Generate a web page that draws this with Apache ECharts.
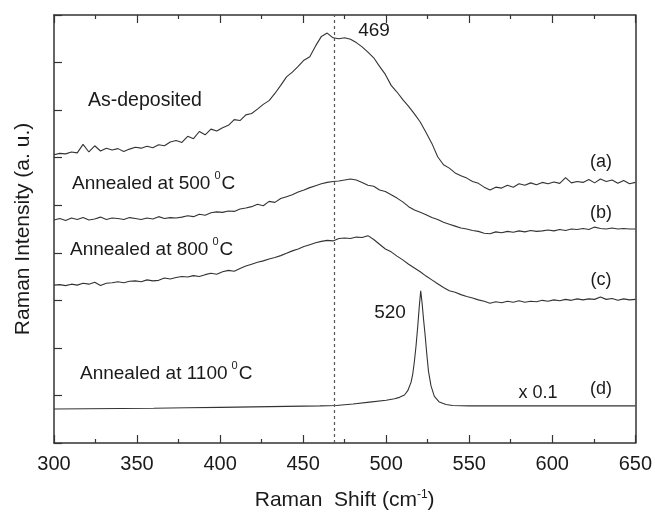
<!DOCTYPE html>
<html>
<head>
<meta charset="utf-8">
<script src="https://cdn.jsdelivr.net/npm/echarts@6/dist/echarts.min.js"></script>
<style>html,body{margin:0;padding:0;background:#fff}#c{width:655px;height:517px}</style>
</head>
<body>
<div id="c"></div>
<script>
// Raman shift grid (cm-1) shared by curves (a), (b), (c)
var shiftX = [300,303.5,307,310.5,314,317.5,321,324.5,328,331.5,335,338.5,342,345.5,349,352.5,356,359.5,363,366.5,370,373.5,377,380.5,384,387.5,391,394.5,398,401.5,405,408.5,412,415.5,419,422.5,426,429.5,433,436.5,440,443.5,447,450.5,454,457.5,461,464.5,468,471.5,475,478.5,482,485.5,489,492.5,496,499.5,503,506.5,510,513.5,517,520.5,524,527.5,531,534.5,538,541.5,545,548.5,552,555.5,559,562.5,566,569.5,573,576.5,580,583.5,587,590.5,594,597.5,601,604.5,608,611.5,615,618.5,622,625.5,629,632.5,636,639.5,643,646.5,650];

// (a) As-deposited (offset intensity, a.u.)
var seriesA = [6.06,6.09,6.08,6.12,6.10,6.28,6.12,6.25,6.14,6.20,6.16,6.19,6.13,6.18,6.22,6.20,6.24,6.21,6.27,6.25,6.33,6.36,6.32,6.45,6.40,6.55,6.48,6.60,6.56,6.63,6.68,6.80,6.78,6.90,6.93,7.02,7.12,7.20,7.35,7.52,7.70,7.80,7.92,8.05,8.12,8.35,8.55,8.62,8.52,8.50,8.52,8.49,8.42,8.33,8.22,8.10,7.92,7.75,7.52,7.38,7.22,7.08,6.92,6.75,6.53,6.30,6.02,5.85,5.78,5.68,5.62,5.57,5.50,5.46,5.38,5.32,5.38,5.36,5.42,5.38,5.45,5.42,5.47,5.43,5.48,5.45,5.49,5.46,5.58,5.47,5.50,5.48,5.54,5.47,5.55,5.50,5.53,5.46,5.52,5.45,5.48];

// (b) Annealed at 500 C
var seriesB = [4.69,4.72,4.68,4.73,4.70,4.74,4.69,4.71,4.75,4.70,4.73,4.72,4.70,4.74,4.72,4.70,4.73,4.71,4.76,4.72,4.74,4.73,4.75,4.78,4.76,4.81,4.79,4.84,4.86,4.85,4.88,4.87,4.92,4.94,4.97,5.02,4.99,5.08,5.06,5.14,5.18,5.22,5.28,5.32,5.37,5.41,5.45,5.48,5.50,5.51,5.53,5.55,5.53,5.48,5.42,5.40,5.32,5.29,5.22,5.15,5.07,4.97,4.90,4.85,4.80,4.74,4.70,4.64,4.60,4.56,4.52,4.50,4.47,4.45,4.41,4.40,4.44,4.42,4.45,4.43,4.46,4.44,4.47,4.45,4.46,4.48,4.46,4.49,4.47,4.50,4.49,4.51,4.49,4.54,4.51,4.50,4.52,4.50,4.51,4.50,4.50];

// (c) Annealed at 800 C
var seriesC = [3.32,3.33,3.31,3.34,3.32,3.36,3.34,3.38,3.31,3.36,3.37,3.39,3.37,3.40,3.41,3.39,3.43,3.41,3.42,3.47,3.45,3.48,3.50,3.49,3.52,3.50,3.54,3.57,3.55,3.60,3.63,3.61,3.67,3.72,3.76,3.80,3.83,3.87,3.90,3.94,3.99,4.04,4.08,4.13,4.17,4.21,4.24,4.26,4.25,4.30,4.31,4.30,4.33,4.32,4.36,4.28,4.18,4.08,4.02,3.93,3.85,3.76,3.68,3.60,3.51,3.43,3.35,3.27,3.20,3.17,3.12,3.08,3.05,3.01,2.98,2.94,2.97,2.95,2.98,2.96,2.99,2.96,2.98,2.97,3.00,2.98,3.01,2.99,3.02,3.00,3.03,3.01,3.03,3.02,3.07,3.02,3.04,3.00,3.03,3.01,3.02];

// (d) Annealed at 1100 C (x 0.1)
var dX = [300,320,340,360,380,400,420,440,460,470,480,490,500,505,508,511,513,515,516,517,518,519,520,520.8,521.6,522.5,523.5,524.5,525.5,527,529,532,536,540,550,560,580,600,620,640,650];
var dY = [0.715,0.72,0.725,0.73,0.74,0.75,0.76,0.77,0.78,0.79,0.82,0.86,0.90,0.93,0.96,1.01,1.10,1.28,1.45,1.72,2.05,2.45,2.90,3.20,2.95,2.60,2.25,1.85,1.50,1.20,0.98,0.86,0.81,0.79,0.78,0.78,0.78,0.78,0.78,0.78,0.78];

var xTicks = [300,350,400,450,500,550,600,650];
var peakMark = 469;

var FONT = '"Liberation Sans", Arial, Helvetica, sans-serif';
var LINE = '#333';
var AX = '#333';
var TXT = '#1a1a1a';

function pairs(xs, ys){ return xs.map(function(x,i){ return [x, ys[i]]; }); }

var chart = echarts.init(document.getElementById('c'), null, {renderer:'canvas'});

function supText(left, top, main, sup, tail){
  return {
    type:'text', x:left, y:top, silent:true,
    style:{
      text: main + '{s|' + sup + '}' + tail,
      fill:TXT, font:'19px ' + FONT,
      align:'left', verticalAlign:'middle',
      rich:{ s:{ fontSize:11, fontFamily:FONT, fill:TXT, verticalAlign:'top', padding:[0,1,16,4] } }
    }
  };
}
function txt(x, y, s, align, size){
  return {type:'text', x:x, y:y, silent:true,
    style:{text:s, fill:TXT, font:(size||18) + 'px ' + FONT, align:align||'center', verticalAlign:'middle'}};
}

var lineSeries = function(name, data){
  return {name:name, type:'line', data:data, showSymbol:false, symbol:'none',
    lineStyle:{color:LINE, width:1.1}, xAxisIndex:0, yAxisIndex:0, z:3};
};

var sA = lineSeries('a', pairs(shiftX, seriesA));
sA.markLine = {
  silent:true, symbol:['none','none'], label:{show:false},
  lineStyle:{type:[3,3], color:'#555', width:1.2},
  data:[{xAxis: peakMark}]
};

chart.setOption({
  animation:false,
  backgroundColor:'#fff',
  grid:{left:54, right:18, top:15, bottom:74, containLabel:false},
  xAxis:[{
    type:'value', min:300, max:650, interval:50, position:'bottom',
    name:'Raman  Shift (cm{s|-1})', nameLocation:'middle', nameGap:46,
    nameTextStyle:{fontSize:21, color:TXT, fontFamily:FONT,
      rich:{s:{fontSize:12, fontFamily:FONT, color:TXT, verticalAlign:'top', padding:[0,0,10,0]}}},
    axisLine:{show:true, onZero:false, lineStyle:{color:AX, width:1.5}},
    axisTick:{show:true, inside:true, length:8, lineStyle:{color:AX, width:1.2}},
    minorTick:{show:true, splitNumber:2, length:4, lineStyle:{color:AX, width:1.2}},
    axisLabel:{show:true, fontSize:20, color:TXT, fontFamily:FONT, margin:11,
      customValues: xTicks},
    splitLine:{show:false}
  },{
    type:'value', min:300, max:650, interval:50, position:'top',
    axisLine:{show:true, onZero:false, lineStyle:{color:AX, width:1.5}},
    axisTick:{show:true, inside:true, length:8, lineStyle:{color:AX, width:1.2}},
    minorTick:{show:true, splitNumber:2, length:4, lineStyle:{color:AX, width:1.2}},
    axisLabel:{show:false}, splitLine:{show:false}
  }],
  yAxis:[{
    type:'value', min:0, max:9, interval:1, position:'left',
    name:'Raman Intensity (a. u.)', nameLocation:'middle', nameGap:20,
    nameTextStyle:{fontSize:21, color:TXT, fontFamily:FONT},
    axisLine:{show:true, onZero:false, lineStyle:{color:AX, width:1.5}},
    axisTick:{show:true, inside:true, length:8, lineStyle:{color:AX, width:1.2}},
    axisLabel:{show:false}, splitLine:{show:false}
  },{
    type:'value', min:0, max:9, interval:1, position:'right',
    axisLine:{show:true, onZero:false, lineStyle:{color:AX, width:1.5}},
    axisTick:{show:false}, axisLabel:{show:false}, splitLine:{show:false}
  }],
  series:[
    sA,
    lineSeries('b', pairs(shiftX, seriesB)),
    lineSeries('c', pairs(shiftX, seriesC)),
    lineSeries('d', pairs(dX, dY))
  ],
  graphic:[
    txt(374, 31, '469', 'center', 19),
    txt(88, 101, 'As-deposited', 'left', 19.5),
    supText(72, 184, 'Annealed at 500', '0', 'C'),
    supText(70, 250, 'Annealed at 800', '0', 'C'),
    supText(80, 374, 'Annealed at 1100', '0', 'C'),
    txt(601, 162, '(a)'),
    txt(601, 213, '(b)'),
    txt(601, 280, '(c)'),
    txt(601, 389, '(d)'),
    txt(538, 393, 'x 0.1'),
    txt(390, 313, '520', 'center', 19)
  ]
});
</script>
</body>
</html>
